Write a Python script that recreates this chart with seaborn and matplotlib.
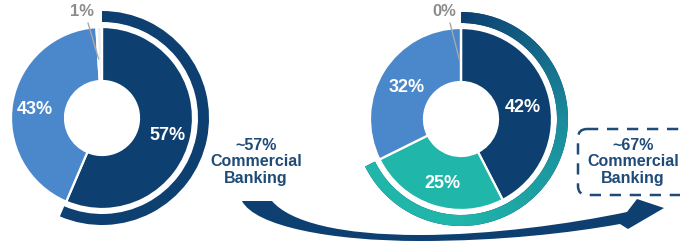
import numpy as np
import matplotlib
matplotlib.use("Agg")
import matplotlib.pyplot as plt
import seaborn as sns
from matplotlib.path import Path
from matplotlib.patches import PathPatch, FancyBboxPatch
from matplotlib.colors import LinearSegmentedColormap

# datos
left_labels = ["57%", "43%", "1%"]
left_values = [57, 43, 1]
right_labels = ["42%", "25%", "32%", "0%"]
right_values = [42, 25, 32, 0]
left_commercial = 1      # cuantos segmentos (desde arriba) son banca comercial
right_commercial = 2
left_note = "~57%\nCommercial\nBanking"
right_note = "~67%\nCommercial\nBanking"

sns.set_style("white")
plt.rcParams["font.family"] = ["Liberation Sans", "DejaVu Sans"]

navy = "#0d3f70"
blue = "#4a88cb"
teal = "#20b6aa"
grey = "#f0f0f0"
txt = "#1f4b78"

fig = plt.figure(figsize=(6.8, 2.41), dpi=100)
ax = fig.add_axes([0, 0, 1, 1])

R, HOLE = 91, 37
RING_OUT, RING_W = 107, 11


def donut(values, colors, center):
    w, _ = ax.pie(values, colors=colors, center=center, radius=R, startangle=270,
                  counterclock=True,
                  wedgeprops=dict(width=R - HOLE, edgecolor="white", linewidth=1.6))
    return w


def ring(values, n, center, color):
    share = [sum(values[:n]), sum(values[n:])]
    w, _ = ax.pie(share, colors=[color, "none"], center=center, radius=RING_OUT,
                  startangle=270, counterclock=True,
                  wedgeprops=dict(width=RING_W, edgecolor="none", linewidth=0))
    return w[0]


cl = (102, 118)
cr = (461, 119)

donut(left_values, [navy, blue, grey], cl)
ring(left_values, left_commercial, cl, navy)
donut(right_values, [navy, teal, blue, grey], cr)
rw = ring(right_values, right_commercial, cr, navy)

# degradado azul -> turquesa en el anillo derecho
cmap = LinearSegmentedColormap.from_list("g", [navy, "#1a8b9c", teal, teal])
xs = np.linspace(cr[0] - RING_OUT, cr[0] + RING_OUT, 300)
ys = np.linspace(cr[1] - RING_OUT, cr[1] + RING_OUT, 300)
X, Y = np.meshgrid(xs, ys)
ang = (np.degrees(np.arctan2(X - cr[0], -(Y - cr[1]))) % 360) / 360
img = ax.imshow(np.clip(ang / 0.75, 0, 1), cmap=cmap, vmin=0, vmax=1,
                extent=(xs[0], xs[-1], ys[-1], ys[0]), origin="upper", zorder=3)
img.set_clip_path(rw)

# etiquetas de los segmentos
pos_left = [(167, 135), (35, 110)]
pos_right = [(523, 107), (442, 183), (407, 88)]
for (x, y), lab in zip(pos_left, left_labels[:2]):
    ax.text(x, y, lab, color="white", fontsize=13, fontweight="bold", ha="center", va="center", zorder=5)
for (x, y), lab in zip(pos_right, right_labels[:3]):
    ax.text(x, y, lab, color="white", fontsize=13, fontweight="bold", ha="center", va="center", zorder=5)


def small_label(values, center, text_xy, label):
    tot = sum(values)
    a0 = 360 * sum(values[:-1]) / tot
    mid = np.radians(a0 + 180 * values[-1] / tot)
    r = HOLE + 22
    px = center[0] + r * np.sin(mid) - 1.5
    py = center[1] - r * np.cos(mid)
    ax.text(text_xy[0], text_xy[1], label, color="#8c8c8c", fontsize=12,
            fontweight="bold", ha="center", va="center", zorder=6)
    ax.plot([text_xy[0] + 6, px], [text_xy[1] + 12, py], color="#a8a8a8", lw=1, zorder=6)


small_label(left_values, cl, (82, 11), left_labels[-1])
small_label(right_values, cr, (444, 11), right_labels[-1])

# textos
ax.text(256, 162, left_note, color=txt, fontsize=11.5, fontweight="bold",
        ha="center", va="center", linespacing=1.15)
ax.text(633, 162, right_note, color=txt, fontsize=11.5, fontweight="bold",
        ha="center", va="center", linespacing=1.15, zorder=6)
box = FancyBboxPatch((581, 132), 110, 60, boxstyle="round,pad=3,rounding_size=9",
                     fill=False, edgecolor=txt, linewidth=1.8, linestyle=(0, (4.5, 3.5)), zorder=6)
ax.add_patch(box)

# flecha curva
verts = [(242, 201),
         (255, 226), (330, 241), (420, 241),
         (500, 241), (570, 233), (620, 224),
         (628, 229), (664, 208), (637, 199), (627, 212),
         (570, 224), (490, 235), (420, 235),
         (340, 235), (290, 222), (272, 201),
         (242, 201)]
codes = ([Path.MOVETO] + [Path.CURVE4] * 6 + [Path.LINETO] * 4
         + [Path.CURVE4] * 6 + [Path.CLOSEPOLY])
ax.add_patch(PathPatch(Path(verts, codes), facecolor=navy, edgecolor="none", zorder=2))

ax.set_xlim(0, 680)
ax.set_ylim(241, 0)
ax.set_aspect("auto")
ax.axis("off")

plt.savefig("out.png", dpi=100)
